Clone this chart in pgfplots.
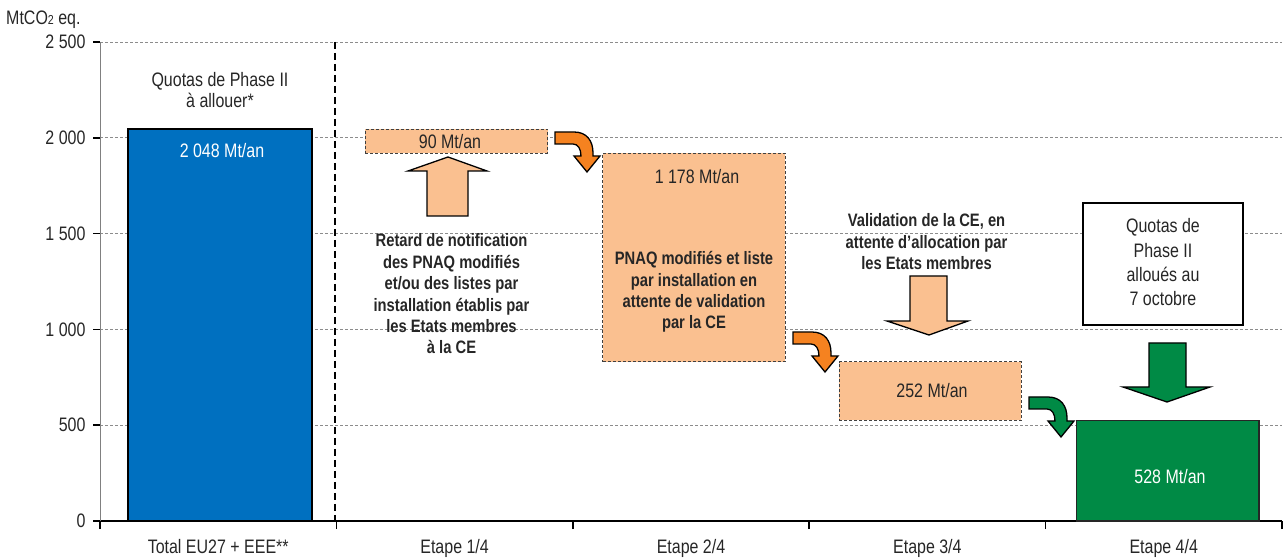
\documentclass[border=0pt]{standalone}
\usepackage{fontspec}
\setmainfont{Liberation Sans}[FakeStretch=0.82]
\usepackage{pgfplots}
\pgfplotsset{compat=1.18}
\definecolor{barblue}{HTML}{0070C0}
\definecolor{paleor}{HTML}{FAC090}
\definecolor{orarrow}{HTML}{F58220}
\definecolor{bargreen}{HTML}{008A45}
\definecolor{txt}{HTML}{262626}
\definecolor{gridc}{HTML}{8C8C8C}
\definecolor{boxdash}{HTML}{404040}
\newcommand{\nf}{\fontsize{19.5}{24}\selectfont}
\newcommand{\bff}{\fontsize{18}{21.5}\selectfont\bfseries}
\newcommand{\curvarrow}[3]{%
  \begin{scope}[shift={(#1,#2)}]
  \fill[#3, draw=black, line width=1.3pt, line join=miter]
    (0,0) -- (19,0) .. controls (32,0) and (38,9) .. (38,21) -- (38,24) -- (45,24)
    -- (32,40) -- (19,24) -- (26,24) .. controls (26,17) and (23,12) .. (18,12)
    -- (0,12) -- cycle;
  \end{scope}}
\begin{document}
\begin{tikzpicture}
\useasboundingbox (0,0) rectangle (1285pt,557pt);
\begin{axis}[
  at={(100pt,36pt)}, anchor=south west,
  width=1182pt, height=479pt, scale only axis,
  xmin=-0.5, xmax=4.5, ymin=0, ymax=2500,
  axis x line*=bottom, axis y line*=left,
  every outer x axis line/.append style={-, black, line width=1.6pt},
  every outer y axis line/.append style={-, gray, line width=1pt},
  xtick={0,1,2,3,4},
  xticklabels={Total EU27 + EEE**, Etape 1/4, Etape 2/4, Etape 3/4, Etape 4/4},
  minor xtick={-0.5,0.5,1.5,2.5,3.5,4.5},
  major x tick style={draw=none},
  ytick={0,500,1000,1500,2000,2500},
  yticklabels={0,500,1 000,1 500,2 000,2 500},
  tick align=outside,
  major tick length=7pt, minor tick length=8pt,
  tick style={black, line width=1.6pt},
  ymajorgrids,
  grid style={gridc, dash pattern=on 3pt off 2pt, line width=0.8pt},
  tick label style={font=\nf, text=txt},
  xticklabel style={yshift=-8pt},
  yticklabel style={xshift=-4pt},
  clip=false,
]
% Total
\addplot[fill=barblue, draw=black, line width=1.8pt] coordinates {(-0.381,0) (0.398,0) (0.398,2048) (-0.381,2048)} -- cycle;
% Etape 1/4 : 90 Mt/an
\addplot[fill=paleor, draw=boxdash, line width=1pt, dash pattern=on 3pt off 2pt] coordinates {(0.623,1920) (1.394,1920) (1.394,2045) (0.623,2045)} -- cycle;
% Etape 2/4 : 1 178 Mt/an
\addplot[fill=paleor, draw=boxdash, line width=1pt, dash pattern=on 3pt off 2pt] coordinates {(1.627,830) (2.398,830) (2.398,1920) (1.627,1920)} -- cycle;
% Etape 3/4 : 252 Mt/an
\addplot[fill=paleor, draw=boxdash, line width=1pt, dash pattern=on 3pt off 2pt] coordinates {(2.627,525) (3.398,525) (3.398,830) (2.627,830)} -- cycle;
% Etape 4/4 : 528 Mt/an
\addplot[fill=bargreen, draw=black!85, line width=1.8pt] coordinates {(3.631,0) (4.403,0) (4.403,525) (3.631,525)} -- cycle;
\end{axis}
\begin{scope}[x=1pt, y=-1pt, yshift=557pt]
  % separator
  \draw[black, line width=2.6pt, dash pattern=on 7pt off 4pt] (335,42) -- (335,521);
  % y label
  \node[anchor=base west, inner sep=0pt, font=\nf, text=txt] at (6,25) {MtCO{\fontsize{13}{13}\selectfont 2} eq.};
  % bar texts
  \node[anchor=base, inner sep=0pt, font=\nf, text=txt] at (220,87) {Quotas de Phase II};
  \node[anchor=base, inner sep=0pt, font=\nf, text=txt] at (220,108) {à allouer*};
  \node[anchor=base, inner sep=0pt, font=\nf, text=white] at (222,158) {2 048 Mt/an};
  \node[anchor=base, inner sep=0pt, font=\nf, text=txt] at (450,149) {90 Mt/an};
  \node[anchor=base, inner sep=0pt, font=\nf, text=txt] at (697,184) {1 178 Mt/an};
  \node[anchor=base, inner sep=0pt, font=\nf, text=txt] at (932,398) {252 Mt/an};
  \node[anchor=base, inner sep=0pt, font=\nf, text=white] at (1170,483) {528 Mt/an};
  % bold annotations
  \foreach \t [count=\i from 0] in {Retard de notification, des PNAQ modifiés, et/ou des listes par, installation établis par, les Etats membres, à la CE}
    \node[anchor=base, inner sep=0pt, font=\bff, text=txt] at (451.5,247+21.4*\i) {\t};
  \foreach \t [count=\i from 0] in {PNAQ modifiés et liste, par installation en, attente de validation, par la CE}
    \node[anchor=base, inner sep=0pt, font=\bff, text=txt] at (694,265+21.3*\i) {\t};
  \foreach \t [count=\i from 0] in {{Validation de la CE, en}, attente d’allocation par, les Etats membres}
    \node[anchor=base, inner sep=0pt, font=\bff, text=txt] at (926.5,227+21.5*\i) {\t};
  % white box
  \filldraw[fill=white, draw=black, line width=1.8pt] (1083,203) rectangle (1243,325);
  \foreach \t [count=\i from 0] in {Quotas de, Phase II, alloués au, 7 octobre}
    \node[anchor=base, inner sep=0pt, font=\nf, text=txt] at (1163,233+24.3*\i) {\t};
  % straight arrows
  \filldraw[fill=paleor, draw=black, line width=1.3pt, line join=miter]
    (427,216) -- (427,171) -- (408,171) -- (448,157) -- (487,171) -- (468,171) -- (468,216) -- cycle;
  \filldraw[fill=paleor, draw=black, line width=1.3pt, line join=miter]
    (910,276) -- (947,276) -- (947,321) -- (968,321) -- (929,335) -- (887,321) -- (910,321) -- cycle;
  \filldraw[fill=bargreen, draw=black, line width=1.3pt, line join=miter]
    (1149,343) -- (1186,343) -- (1186,387) -- (1210,387) -- (1167,402) -- (1123,387) -- (1149,387) -- cycle;
  % curved arrows
  \curvarrow{555}{132}{orarrow}
  \curvarrow{793}{332}{orarrow}
  \curvarrow{1029}{397}{bargreen}
\end{scope}
\end{tikzpicture}
\end{document}
